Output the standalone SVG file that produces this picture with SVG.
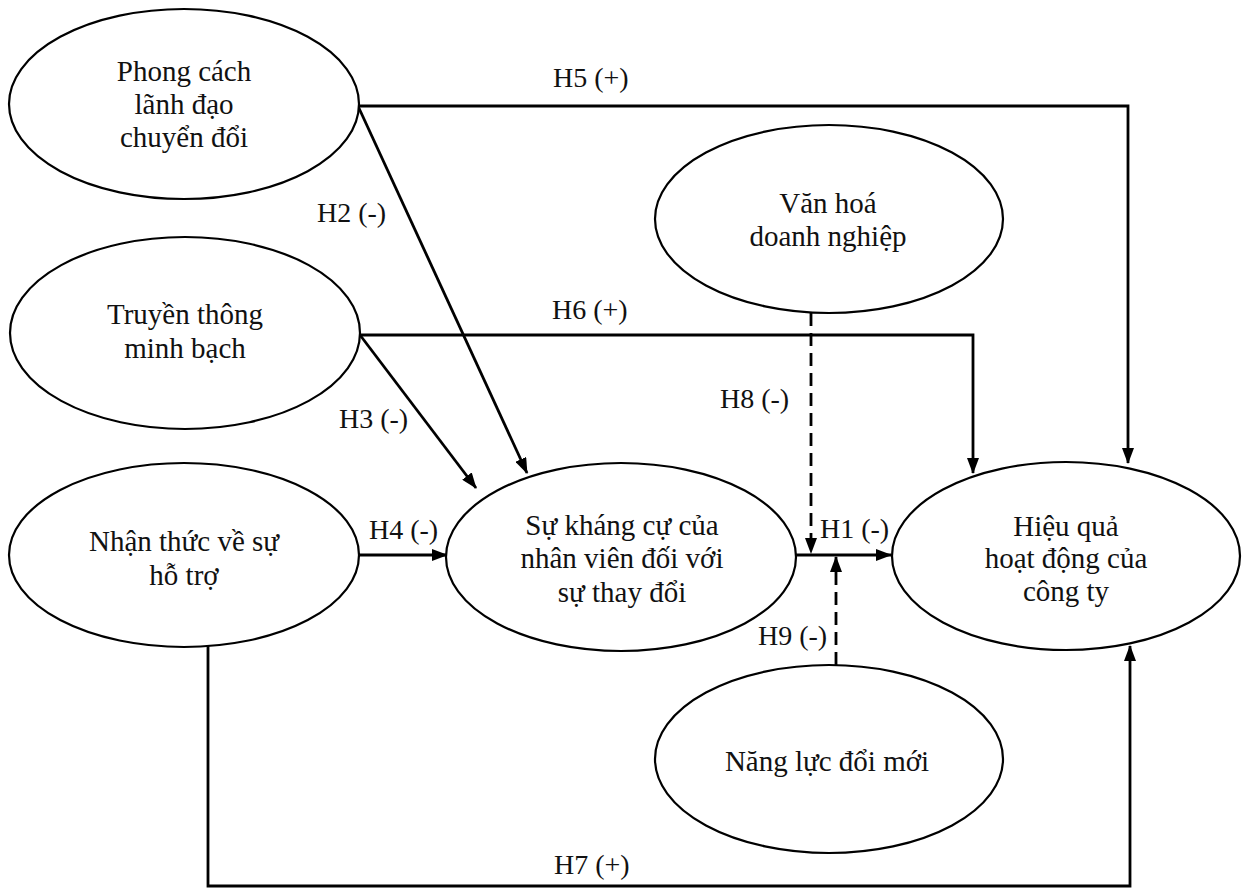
<svg xmlns="http://www.w3.org/2000/svg" width="1246" height="891" viewBox="0 0 1246 891">
<style>
.node ellipse{fill:#fff;stroke:#000;stroke-width:2.2}
.node text{font-family:"Liberation Serif","Times New Roman",serif;font-size:29px;fill:#111;text-anchor:middle}
.lbl{font-family:"Liberation Serif","Times New Roman",serif;font-size:28px;fill:#111}
.c{fill:none;stroke:#000;stroke-width:2.8}
.d{fill:none;stroke:#000;stroke-width:2.8;stroke-dasharray:13 7}
</style>
<defs>
<marker id="ah" markerUnits="userSpaceOnUse" markerWidth="16" markerHeight="12" refX="15" refY="6" orient="auto">
<path d="M0,0 L16,6 L0,12 Z" fill="#000"/>
</marker>
</defs>
<rect width="1246" height="891" fill="#fff"/>
<g id="connectors">
<polyline class="c" points="358,106 1128,106 1128,463" marker-end="url(#ah)"/>
<line class="c" x1="358" y1="106" x2="527" y2="473" marker-end="url(#ah)"/>
<polyline class="c" points="360,335 973,335 973,473" marker-end="url(#ah)"/>
<line class="c" x1="360" y1="335" x2="476" y2="488" marker-end="url(#ah)"/>
<line class="c" x1="359" y1="555" x2="447" y2="555" marker-end="url(#ah)"/>
<line class="c" x1="796" y1="555" x2="891" y2="555" marker-end="url(#ah)"/>
<line class="d" x1="811" y1="313" x2="811" y2="553" marker-end="url(#ah)"/>
<line class="d" x1="836" y1="665" x2="836" y2="557" marker-end="url(#ah)"/>
<polyline class="c" points="208,646 208,886 1130,886 1130,646" marker-end="url(#ah)"/>
<text class="lbl" x="553" y="87">H5 (+)</text>
<text class="lbl" x="317" y="222">H2 (-)</text>
<text class="lbl" x="552" y="319">H6 (+)</text>
<text class="lbl" x="339" y="428">H3 (-)</text>
<text class="lbl" x="369" y="539">H4 (-)</text>
<text class="lbl" x="720" y="408">H8 (-)</text>
<text class="lbl" x="820" y="538">H1 (-)</text>
<text class="lbl" x="758" y="645">H9 (-)</text>
<text class="lbl" x="554" y="874">H7 (+)</text>
</g>
<g id="n-phong" class="node">
<ellipse cx="184" cy="104" rx="175" ry="95"/>
<text x="184" y="81">Phong cách</text>
<text x="184" y="114">lãnh đạo</text>
<text x="184" y="147">chuyển đổi</text>
</g>
<g id="n-truyen" class="node">
<ellipse cx="185" cy="333" rx="175" ry="96"/>
<text x="185" y="324">Truyền thông</text>
<text x="185" y="358">minh bạch</text>
</g>
<g id="n-nhan" class="node">
<ellipse cx="184" cy="555" rx="175" ry="92"/>
<text x="184" y="551">Nhận thức về sự</text>
<text x="184" y="585">hỗ trợ</text>
</g>
<g id="n-khang" class="node">
<ellipse cx="621" cy="557" rx="175" ry="94"/>
<text x="622" y="535">Sự kháng cự của</text>
<text x="622" y="568">nhân viên đối với</text>
<text x="622" y="602">sự thay đổi</text>
</g>
<g id="n-hieu" class="node">
<ellipse cx="1066" cy="556" rx="174" ry="94"/>
<text x="1066" y="536">Hiệu quả</text>
<text x="1066" y="568">hoạt động của</text>
<text x="1066" y="601">công ty</text>
</g>
<g id="n-van" class="node">
<ellipse cx="829" cy="219" rx="174" ry="94"/>
<text x="828" y="213">Văn hoá</text>
<text x="828" y="246">doanh nghiệp</text>
</g>
<g id="n-nang" class="node">
<ellipse cx="829" cy="759" rx="174" ry="94"/>
<text x="827" y="771">Năng lực đổi mới</text>
</g>
</svg>
